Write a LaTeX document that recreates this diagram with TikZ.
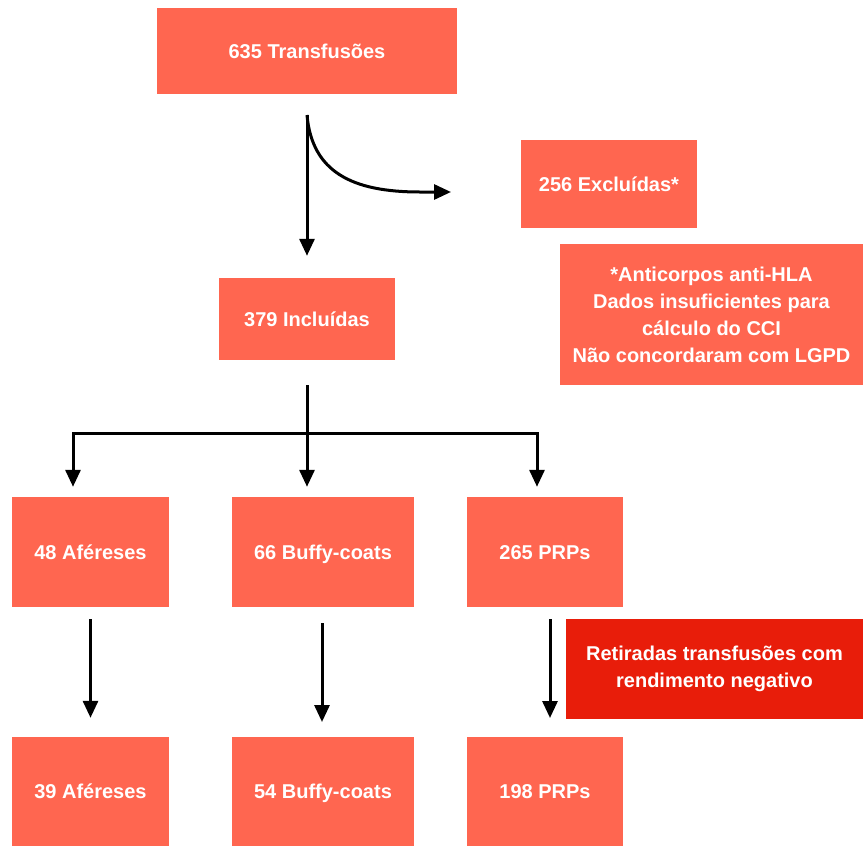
\documentclass[tikz,border=0pt]{standalone}
\usepackage{fontspec}
\setmainfont{Liberation Sans}
\usepackage{tikz}
\usetikzlibrary{arrows.meta}
\definecolor{FlowCoral}{HTML}{FF6650}
\definecolor{FlowRed}{HTML}{E81D0A}

\begin{document}
\begin{tikzpicture}[x=1pt,y=-1pt,
  box/.style={fill=FlowCoral,text=white,inner sep=0pt,align=center,
    font=\fontsize{20}{27}\selectfont\bfseries},
  oneline/.style={text height=16pt,text depth=2pt},
  redbox/.style={box,fill=FlowRed},
  arr/.style={line width=3pt,-{Triangle[width=15pt,length=17pt]}},
  lin/.style={line width=3pt}]
  \useasboundingbox (0,0) rectangle (863,846);
  % top
  \node[box,oneline,minimum width=300,minimum height=86] (trans) at (307,51) {635 Transfusões};
  \node[box,oneline,minimum width=176,minimum height=88] (excl) at (609,184) {256 Excluídas*};
  \node[box,minimum width=303,minimum height=141] (motivo) at (711.5,314.5)
    {*Anticorpos anti-HLA\\Dados insuficientes para\\cálculo do CCI\\Não concordaram com LGPD};
  \node[box,oneline,minimum width=176,minimum height=82] (incl) at (307,319) {379 Incluídas};
  % middle row
  \node[box,oneline,minimum width=157,minimum height=110] (afer) at (90.5,552) {48 Aféreses};
  \node[box,oneline,minimum width=182,minimum height=110] (buffy) at (323,552) {66 Buffy-coats};
  \node[box,oneline,minimum width=156,minimum height=110] (prp) at (545,552) {265 PRPs};
  % bottom row
  \node[redbox,minimum width=297,minimum height=100] (retir) at (714.5,669)
    {Retiradas transfusões com\\rendimento negativo};
  \node[box,oneline,minimum width=157,minimum height=109] (aferfim) at (90.5,791.5) {39 Aféreses};
  \node[box,oneline,minimum width=182,minimum height=109] (buffyfim) at (323,791.5) {54 Buffy-coats};
  \node[box,oneline,minimum width=156,minimum height=109] (prpfim) at (545,791.5) {198 PRPs};
  % connectors
  \coordinate (topstart) at (307,115);
  \coordinate (exclin) at (451,192);
  \coordinate (split) at (307,433);
  \coordinate (splitL) at (73,433);
  \coordinate (splitR) at (537,433);
  \draw[arr,shorten <=21pt,shorten >=22pt] (trans.south) -- (incl.north);
  \draw[arr] (topstart) .. controls (312,172) and (352,192) .. (420,192) -- (exclin);
  \draw[lin,shorten <=25pt] (incl.south) -- (split);
  \draw[lin,line cap=rect] (splitL) -- (splitR);
  \draw[arr,shorten >=10pt] (splitL) -- (splitL |- afer.north);
  \draw[arr,shorten >=10pt] (split) -- (split |- buffy.north);
  \draw[arr,shorten >=10pt] (splitR) -- (splitR |- prp.north);
  \draw[arr,shorten <=12pt,shorten >=19pt] (afer.south) -- (aferfim.north);
  \draw[arr,shorten <=16pt,shorten >=15pt] (322,607) -- (322,737);
  \draw[arr,shorten <=12pt,shorten >=19pt] (550,607) -- (550,737);
\end{tikzpicture}
\end{document}
